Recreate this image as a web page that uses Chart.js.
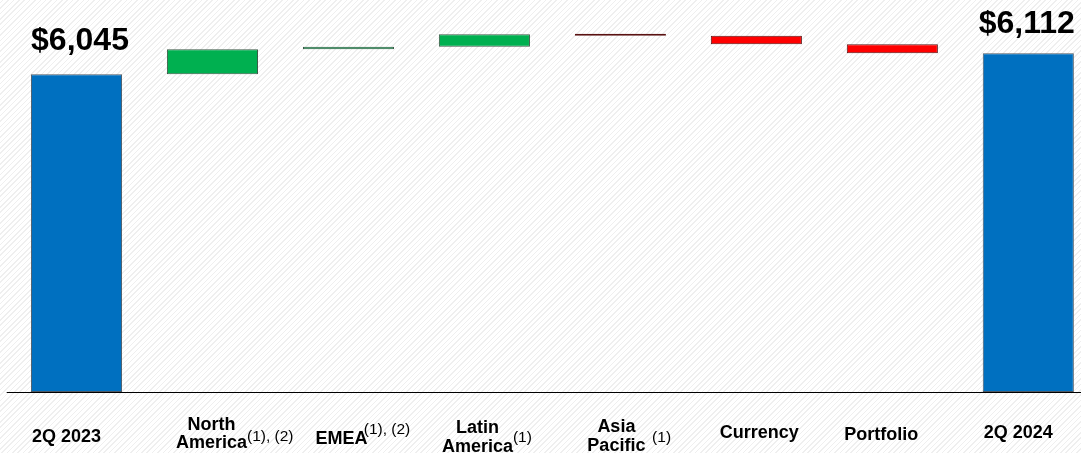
<!DOCTYPE html>
<html>
<head>
<meta charset="utf-8">
<script src="https://cdn.jsdelivr.net/npm/chart.js@4/dist/chart.umd.min.js"></script>
<style>
  html, body { margin: 0; padding: 0; }
  body {
    width: 1081px; height: 453px; overflow: hidden;
    background: #fff repeating-linear-gradient(-45deg, #ffffff 0 2.7px, #efefef 2.7px 3.8px);
  }
  #wrap { position: relative; width: 1081px; height: 453px; }
</style>
</head>
<body>
<div id="wrap"><canvas id="c"></canvas></div>
<script>
// Net sales bridge, 2Q 2023 -> 2Q 2024 ($ millions)
const categories = ['2Q 2023', 'North America', 'EMEA', 'Latin America', 'Asia Pacific', 'Currency', 'Portfolio', '2Q 2024'];
const startTotal = 6045;
const changes = [80, 8, 40, -5, -27, -29];
const endTotal = 6112;

// Axis labels as drawn (line breaks and footnote markers)
const labelLines = [['2Q 2023'], ['North', 'America'], ['EMEA'], ['Latin', 'America'], ['Asia', 'Pacific'], ['Currency'], ['Portfolio'], ['2Q 2024']];
const footnotes = ['', '(1), (2)', '(1), (2)', '(1)', '(1)', '', '', ''];

// Scale window (the value axis is cut off below the totals)
const axisMin = 5026;
const axisMax = 6250;

// Build the bars of the bridge: totals rise from the axis floor, changes float
const barData = [[axisMin, startTotal]];
const isTotal = [true];
let running = startTotal;
changes.forEach(c => { barData.push([running, running + c]); isTotal.push(false); running += c; });
barData.push([axisMin, endTotal]);
isTotal.push(true);

const BLUE = '#0070C0', GREEN = '#00B050', RED = '#FF0000';
const barColors = barData.map((d, i) => isTotal[i] ? BLUE : (d[1] >= d[0] ? GREEN : RED));
const barBorders = barData.map((d, i) => isTotal[i] ? '#4d5a66' : (d[1] >= d[0] ? '#3d5a48' : '#5a1212'));

// Text placement for category labels (offset from bar centre, baselines, footnote nudge)
const labelLayout = [
  { dx: -10, y: [442.3] },
  { dx: -1,  y: [430, 448.3], sdx: 0,   sdy: -7 },
  { dx: -7,  y: [444.3],      sdx: -3.7, sdy: -10 },
  { dx: -7,  y: [433.3, 451.8], sdx: 0, sdy: -10 },
  { dx: -4,  y: [431.7, 450.6], sdx: 6.7, sdy: -9 },
  { dx: 3,   y: [438.3] },
  { dx: -11, y: [440] },
  { dx: -10, y: [437.7] }
];
const totalLabelLayout = { 0: { dx: 3.5, dy: -24 }, 7: { dx: -1.6, dy: -20 } };

const FONT = '"Liberation Sans", Arial, Helvetica, sans-serif';

const bridgeText = {
  id: 'bridgeText',
  afterDatasetsDraw(chart) {
    const ctx = chart.ctx;
    const meta = chart.getDatasetMeta(0);
    const yScale = chart.scales.y;

    // baseline rule
    const by = Math.round(yScale.getPixelForValue(axisMin)) + 0.5;
    ctx.save();
    ctx.strokeStyle = '#000';
    ctx.lineWidth = 1.2;
    ctx.beginPath();
    ctx.moveTo(6.7, by);
    ctx.lineTo(chart.width, by);
    ctx.stroke();

    ctx.fillStyle = '#000';
    ctx.textBaseline = 'alphabetic';

    // category labels with footnote markers
    meta.data.forEach((el, i) => {
      const lay = labelLayout[i];
      const cx = el.x + lay.dx;
      ctx.font = 'bold 18px ' + FONT;
      ctx.textAlign = 'center';
      let lastRight = cx;
      labelLines[i].forEach((line, k) => {
        ctx.fillText(line, cx, lay.y[k]);
        lastRight = cx + ctx.measureText(line).width / 2;
      });
      if (footnotes[i]) {
        ctx.font = '15.5px ' + FONT;
        ctx.textAlign = 'left';
        const lastY = lay.y[lay.y.length - 1];
        ctx.fillText(footnotes[i], lastRight + lay.sdx, lastY + lay.sdy);
      }
    });

    // total value labels
    ctx.font = 'bold 32px ' + FONT;
    ctx.textAlign = 'center';
    barData.forEach((d, i) => {
      if (!isTotal[i]) return;
      const el = meta.data[i];
      const lay = totalLabelLayout[i];
      const top = Math.min(el.y, el.base);
      ctx.fillText('$' + d[1].toLocaleString('en-US'), el.x + lay.dx, top + lay.dy);
    });
    ctx.restore();
  }
};

new Chart(document.getElementById('c'), {
  type: 'bar',
  data: {
    labels: categories,
    datasets: [{
      data: barData,
      backgroundColor: barColors,
      borderColor: barBorders,
      borderWidth: 1,
      borderSkipped: false,
      categoryPercentage: 1,
      barPercentage: 0.67,
      minBarLength: 2.2,
      clip: false
    }]
  },
  options: {
    responsive: true,
    maintainAspectRatio: false,
    animation: false,
    devicePixelRatio: 1,
    layout: { padding: { left: 76.5, right: 52.7, top: 10.26, bottom: 61 } },
    plugins: { legend: { display: false }, tooltip: { enabled: false } },
    scales: {
      x: { type: 'category', offset: false, display: false, grid: { display: false } },
      y: { display: false, min: axisMin, max: axisMax, beginAtZero: false, grid: { display: false } }
    }
  },
  plugins: [bridgeText]
});
</script>
</body>
</html>
